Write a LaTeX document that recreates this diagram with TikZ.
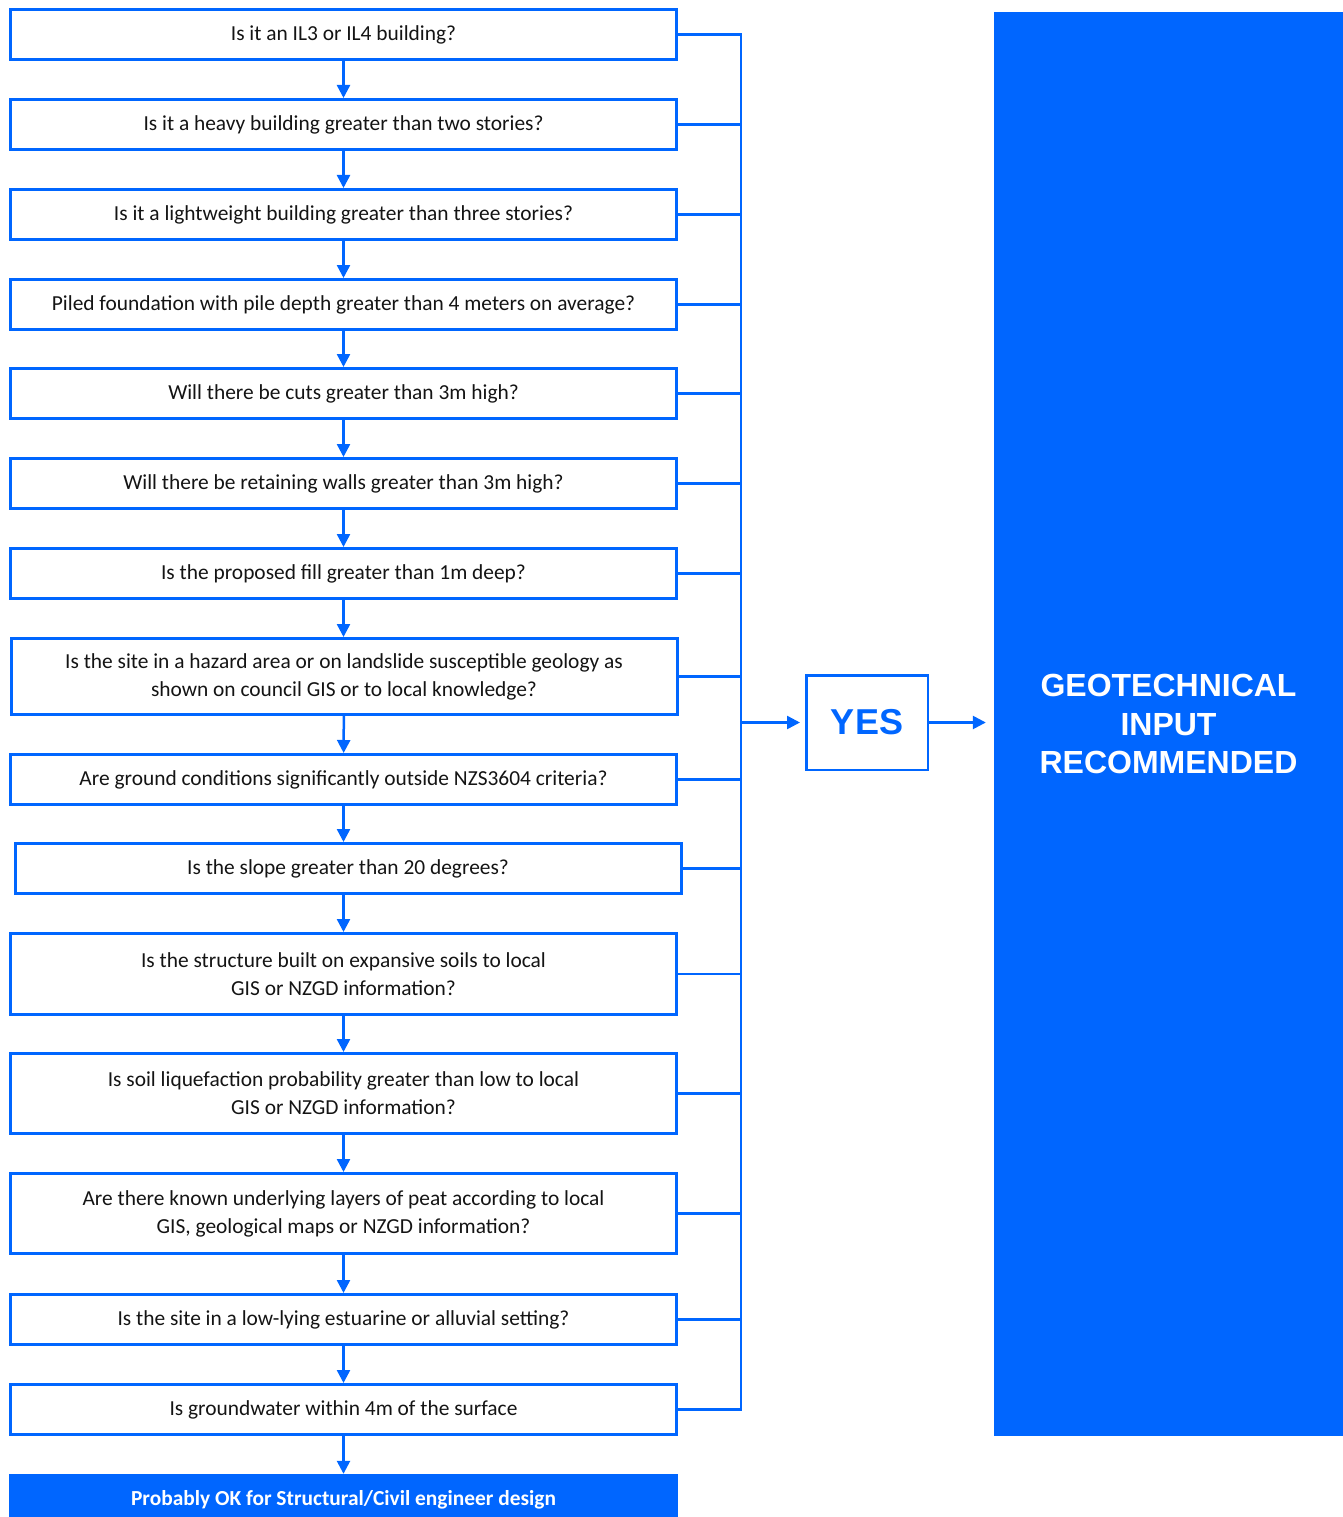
\documentclass[tikz,border=0pt]{standalone}
\usepackage{fontspec}
\setmainfont{Carlito}
\newfontfamily\arialf{Liberation Sans}
\usetikzlibrary{arrows.meta}
\definecolor{gblue}{HTML}{0066FF}
\tikzset{
  qbox/.style={draw=gblue, line width=3pt, fill=white, minimum width=666pt, inner sep=0pt,
    align=center, font=\fontsize{21.4}{28}\selectfont, text=black!92},
  conn/.style={draw=gblue, line width=2.5pt},
  arr/.style={conn, -{Triangle[width=13pt,length=13pt]}},
}
\begin{document}
\begin{tikzpicture}[x=1pt,y=-1pt]
\clip (0,0) rectangle (1343,1517);
\node[qbox, minimum height=50pt] (b1) at (343.5,34.5) {Is it an IL3 or IL4 building?};
\node[qbox, minimum height=50pt] (b2) at (343.5,124.5) {Is it a heavy building greater than two stories?};
\node[qbox, minimum height=50pt] (b3) at (343.5,214.5) {Is it a lightweight building greater than three stories?};
\node[qbox, minimum height=50pt] (b4) at (343.5,304.5) {Piled foundation with pile depth greater than 4 meters on average?};
\node[qbox, minimum height=50pt] (b5) at (343.5,393.5) {Will there be cuts greater than 3m high?};
\node[qbox, minimum height=50pt] (b6) at (343.5,483.5) {Will there be retaining walls greater than 3m high?};
\node[qbox, minimum height=50pt] (b7) at (343.5,573.5) {Is the proposed fill greater than 1m deep?};
\node[qbox, minimum height=76pt] (b8) at (344,676.5) {Is the site in a hazard area or on landslide susceptible geology as\\shown on council GIS or to local knowledge?};
\node[qbox, minimum height=50pt] (b9) at (343.5,779.5) {Are ground conditions significantly outside NZS3604 criteria?};
\node[qbox, minimum height=50pt] (b10) at (348,868.5) {Is the slope greater than 20 degrees?};
\node[qbox, minimum height=81pt] (b11) at (343.5,974) {Is the structure built on expansive soils to local\\GIS or NZGD information?};
\node[qbox, minimum height=80pt] (b12) at (343.5,1093.5) {Is soil liquefaction probability greater than low to local\\GIS or NZGD information?};
\node[qbox, minimum height=80pt] (b13) at (343.5,1213.5) {Are there known underlying layers of peat according to local\\GIS, geological maps or NZGD information?};
\node[qbox, minimum height=50pt] (b14) at (343.5,1319.5) {Is the site in a low-lying estuarine or alluvial setting?};
\node[qbox, minimum height=50pt] (b15) at (343.5,1409.5) {Is groundwater within 4m of the surface};
\node[fill=gblue, minimum width=669pt, minimum height=52pt, inner sep=0pt, text=white,
  font=\fontsize{21.4}{24}\selectfont\bfseries] (ok) at (343.5,1500) {Probably OK for Structural/Civil engineer design};

\coordinate (bus) at (741,0);
\coordinate (j) at (741,722.5);

\node[draw=gblue, line width=2.5pt, minimum width=121.5pt, minimum height=94.5pt, inner sep=0pt,
  text=gblue, font=\arialf\fontsize{36}{40}\selectfont\bfseries] (yes) at (867,722.5) {YES};
\node[fill=gblue, minimum width=349pt, minimum height=1424pt, inner sep=0pt, text=white, align=center,
  font=\arialf\fontsize{32}{38.5}\selectfont\bfseries] (geo) at (1168.5,724) {GEOTECHNICAL\\INPUT\\RECOMMENDED};

% vertical flow
\foreach \a/\b in {b1/b2,b2/b3,b3/b4,b4/b5,b5/b6,b6/b7,b8/b9,b11/b12,b12/b13,b13/b14,b14/b15,b15/ok}
  \draw[arr] (\a) -- (\b);
\draw[arr] (b7.south) -- (b7.south |- b8.north);
\draw[arr] (b9.south) -- (b9.south |- b10.north);
\draw[arr] (b11.north |- b10.south) -- (b11.north);

% bus
\draw[conn] (b1.east) -| (b15.east -| bus) -- (b15.east);
\foreach \n in {b2,b3,b4,b5,b6,b7,b8,b9,b10,b11,b12,b13,b14}
  \draw[conn] (\n.east) -- (\n.east -| bus);
\draw[arr, shorten >=5pt] (j) -- (yes.west);
\draw[arr, shorten >=8pt] (yes.east) -- (geo.west |- yes.east);
\end{tikzpicture}
\end{document}
